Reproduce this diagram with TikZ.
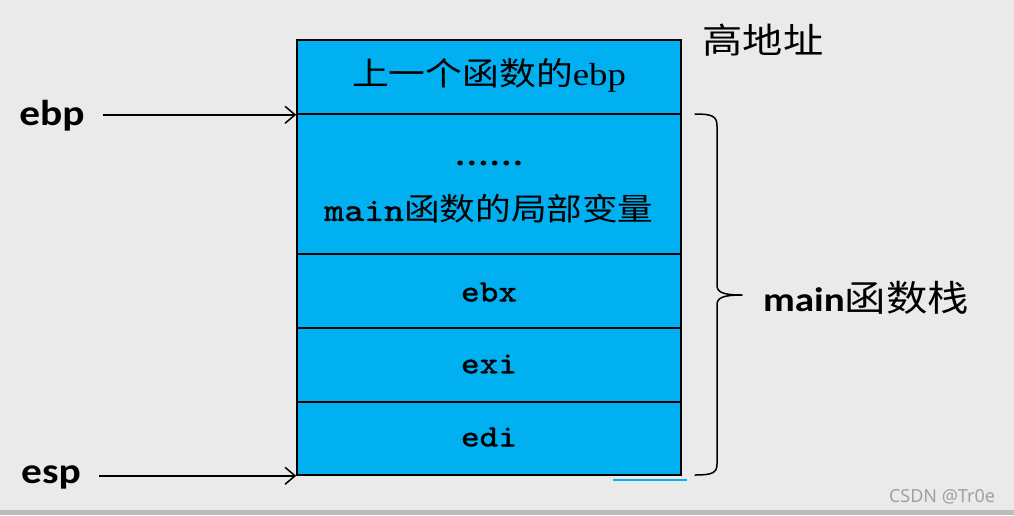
\documentclass[tikz,border=0pt]{standalone}
\usepackage{fontspec}
\usetikzlibrary{arrows.meta}
\setmainfont{Liberation Serif}[FakeStretch=1.15]
\newfontfamily\cjk{Noto Sans CJK SC}[FakeStretch=1.15]
\newfontfamily\lab{Carlito}[FakeStretch=1.15]
\newfontfamily\mono{lmmono10-regular.otf}[FakeStretch=1.15,FakeBold=1.2]
\newfontfamily\dotfont{Liberation Serif Bold}[FakeStretch=1.15]
\newfontfamily\wmfont{Noto Sans}
\definecolor{bgc}{RGB}{234,234,234}
\definecolor{cellc}{RGB}{0,176,240}
\definecolor{wmc}{RGB}{160,160,160}
\tikzset{
  cell/.style={draw=black, fill=cellc, line width=1.6pt, minimum width=384pt, inner sep=0pt},
  txt/.style={inner sep=0pt},
  lbl/.style={inner xsep=18pt, inner ysep=0pt, font=\lab\bfseries\fontsize{36}{40}\selectfont},
  arr/.style={line width=1.5pt, -{Straight Barb[length=10pt,width=17pt,line width=1.5pt]}},
  brc/.style={line width=1.5pt, line cap=round, line join=round}
}
\begin{document}
\begin{tikzpicture}[x=1pt,y=-1pt]
\fill[bgc] (0,0) rectangle (1014,515);
\fill[wmc!70] (0,510) rectangle (1014,515);
\useasboundingbox (0,0) rectangle (1014,515);
% stack cells
\node[cell, minimum height=74pt] (r1) at (489,77) {};
\node[cell, minimum height=140pt] (r2) at (489,184) {};
\node[cell, minimum height=74pt] (r3) at (489,291) {};
\node[cell, minimum height=74pt] (r4) at (489,365) {};
\node[cell, minimum height=73pt] (r5) at (489,438.5) {};
% cell texts
\node[txt] (t1) at (489,75) {\cjk\fontsize{32}{38}\selectfont 上一个函数的{\rmfamily ebp}};
\node[txt] (t2a) at (489,163) {\dotfont\fontsize{30}{36}\selectfont ……};
\node[txt] (t2b) at (489,209) {{\mono\fontsize{33}{38}\selectfont main}\cjk\fontsize{31}{38}\selectfont 函数的局部变量};
\node[txt] (t3) at (489,292) {\mono\fontsize{31}{36}\selectfont ebx};
\node[txt] (t4) at (489,364) {\mono\fontsize{31}{36}\selectfont exi};
\node[txt] (t5) at (489,437) {\mono\fontsize{31}{36}\selectfont edi};
% pointer labels
\node[lbl] (ebp) at (52,116) {ebp};
\node[lbl] (esp) at (51,477) {esp};
\draw[arr] (ebp.east |- r1.south west) -- (r1.south west);
\draw[arr] (esp.east |- r5.south west) -- (r5.south west);
% high address
\node[txt] (high) at (763,40) {\cjk\fontsize{35}{40}\selectfont 高地址};
% brace
\draw[brc] (695,114) .. controls (712,114) and (717,116) .. (717,126)
  -- (717,285) .. controls (717,292) and (722,295) .. (742,295)
  .. controls (722,295) and (717,298) .. (717,305)
  -- (717,464) .. controls (717,473) and (712,475) .. (695,475);
\node[txt] (stack) at (866,298) {{\lab\bfseries\fontsize{34}{40}\selectfont main}\cjk\fontsize{36}{40}\selectfont 函数栈};
% watermark
\node[txt, text=wmc] (wm) at (942,497) {\wmfont\fontsize{18}{20}\selectfont CSDN @Tr0e};
\draw[cellc, line width=1.5pt] (613,480) -- (687,480);
\end{tikzpicture}
\end{document}
